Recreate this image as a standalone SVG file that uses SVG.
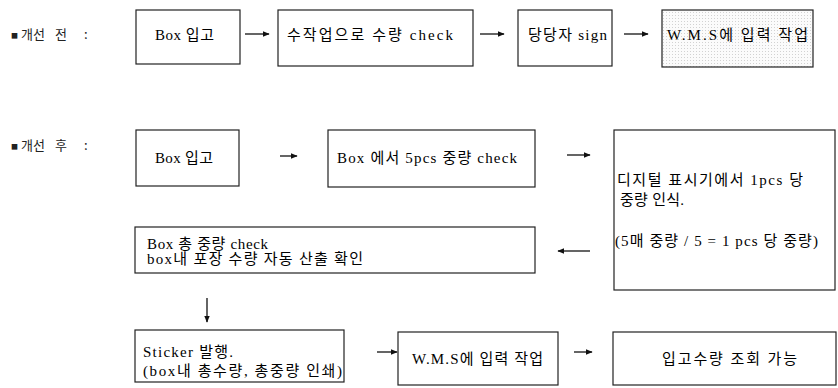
<svg xmlns="http://www.w3.org/2000/svg" width="838" height="388" viewBox="0 0 838 388">
<style>
.box{fill:#ffffff;stroke:#222;stroke-width:1.2}
.dense{fill:url(#dots2);stroke:#222;stroke-width:1.2}
.t{font-family:"Liberation Serif","Noto Sans CJK KR",serif;font-size:15px;fill:#000}
.lbl{font-family:"Noto Sans CJK KR","Liberation Sans",sans-serif;font-size:13px;fill:#222}
.bul{font-size:7px}
.arr{stroke:#111;stroke-width:1.3;fill:none;marker-end:url(#ah)}
</style>
<defs>
<marker id="ah" viewBox="0 0 10 10" refX="9" refY="5" markerWidth="7" markerHeight="7" markerUnits="userSpaceOnUse" orient="auto">
<path d="M0,1 L10,5 L0,9 z" fill="#111"/>
</marker>
<pattern id="dots2" width="3" height="3" patternUnits="userSpaceOnUse">
<rect width="3" height="3" fill="#fbfbfb"/>
<rect width="1" height="1" fill="#d2d2d2"/>
</pattern>
</defs>
<rect width="838" height="388" fill="#ffffff"/>

<text class="lbl" y="39"><tspan class="bul" x="11" dy="-1">■</tspan><tspan x="21" dy="1">개선 </tspan><tspan x="55">전 </tspan><tspan x="84">:</tspan></text>
<text class="lbl" y="150"><tspan class="bul" x="11" dy="-1">■</tspan><tspan x="21" dy="1">개선 </tspan><tspan x="55">후 </tspan><tspan x="84">:</tspan></text>

<g id="before-box-in"><rect class="box" x="136" y="10" width="104" height="54"/><text class="t" x="155" y="40" textLength="59" lengthAdjust="spacing">Box 입고</text></g>
<g id="before-manual-check"><rect class="box" x="278" y="10" width="195" height="56"/><text class="t" x="287" y="40" textLength="166" lengthAdjust="spacing">수작업으로 수량 check</text></g>
<g id="before-sign"><rect class="box" x="518" y="10" width="94" height="56"/><text class="t" x="528" y="40" textLength="79" lengthAdjust="spacing">당당자 sign</text></g>
<g id="before-wms"><rect class="dense" x="662" y="10" width="151" height="57"/><text class="t" x="667" y="40" textLength="141" lengthAdjust="spacing">W.M.S에 입력 작업</text></g>

<g id="after-box-in"><rect class="box" x="136" y="130" width="103" height="56"/><text class="t" x="155" y="163" textLength="58" lengthAdjust="spacing">Box 입고</text></g>
<g id="after-5pcs"><rect class="box" x="328" y="130" width="207" height="57"/><text class="t" x="337" y="163" textLength="180" lengthAdjust="spacing">Box 에서 5pcs 중량 check</text></g>
<g id="after-digital"><rect class="box" x="614" y="130" width="221" height="160"/>
<text class="t" x="617" y="185" textLength="186" lengthAdjust="spacing">디지털 표시기에서 1pcs 당</text>
<text class="t" x="620" y="205" textLength="64" lengthAdjust="spacing">중량 인식.</text>
<text class="t" x="615" y="246" textLength="203" lengthAdjust="spacing">(5매 중량 / 5 = 1 pcs 당 중량)</text></g>
<g id="after-total"><rect class="box" x="135" y="227" width="400" height="46"/>
<text class="t" x="147" y="249" textLength="121" lengthAdjust="spacing">Box 총 중량 check</text>
<text class="t" x="147" y="264" textLength="216" lengthAdjust="spacing">box내 포장 수량 자동 산출 확인</text></g>
<g id="after-sticker"><rect class="box" x="135" y="330" width="209" height="52"/>
<text class="t" x="143" y="357" textLength="90" lengthAdjust="spacing">Sticker 발행.</text>
<text class="t" x="143" y="376" textLength="199" lengthAdjust="spacing">(box내 총수량, 총중량 인쇄)</text></g>
<g id="after-wms"><rect class="box" x="398" y="332" width="160" height="53"/><text class="t" x="412" y="364" textLength="131" lengthAdjust="spacing">W.M.S에 입력 작업</text></g>
<g id="after-query"><rect class="box" x="613" y="332" width="223" height="53"/><text class="t" x="662" y="364" textLength="135" lengthAdjust="spacing">입고수량 조회 가능</text></g>

<g id="connectors">
<line class="arr" x1="245" y1="34" x2="269" y2="34"/>
<line class="arr" x1="480" y1="34" x2="504" y2="34"/>
<line class="arr" x1="624" y1="34" x2="648" y2="34"/>
<line class="arr" x1="280" y1="156" x2="297" y2="156"/>
<line class="arr" x1="567" y1="155" x2="590" y2="155"/>
<line class="arr" x1="590" y1="251" x2="558" y2="251"/>
<line class="arr" x1="207" y1="298" x2="207" y2="322"/>
<line class="arr" x1="377" y1="352" x2="397" y2="352"/>
<line class="arr" x1="574" y1="352" x2="592" y2="352"/>
</g>
</svg>
